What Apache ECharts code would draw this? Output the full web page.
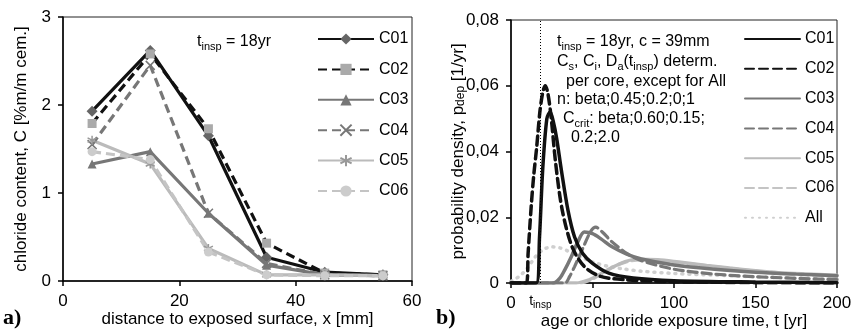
<!DOCTYPE html>
<html>
<head>
<meta charset="utf-8">
<script src="https://cdn.jsdelivr.net/npm/echarts@6/dist/echarts.min.js"></script>
<style>
  html, body { margin: 0; padding: 0; background: #fff; }
  #chart { width: 853px; height: 331px; }
</style>
</head>
<body>
<div id="chart"></div>
<script>
// ---- a) chloride profiles ----
const depth = [5, 15, 25, 35, 45, 55];
const C01 = [1.93, 2.62, 1.65, 0.27, 0.10, 0.07];
const C02 = [1.79, 2.58, 1.73, 0.43, 0.09, 0.07];
const C03 = [1.33, 1.47, 0.77, 0.18, 0.07, 0.06];
const C04 = [1.55, 2.45, 0.77, 0.20, 0.07, 0.06];
const C05 = [1.60, 1.33, 0.37, 0.07, 0.07, 0.06];
const C06 = [1.47, 1.38, 0.33, 0.07, 0.06, 0.06];

// ---- b) probability density of depassivation ----
const tC01 = [0, 15.5, 17.5, 19.5, 22, 24, 26, 28, 31, 35, 39, 44, 50, 60, 75, 100, 150, 200];
const pC01 = [0, 0, 0.014, 0.035, 0.05, 0.052, 0.049, 0.044, 0.034, 0.022, 0.014, 0.009, 0.006, 0.003, 0.0015, 0.0007, 0.0003, 0.0001];
const tC02 = [0, 9.5, 10.5, 12.5, 14, 15.7, 17.7, 19.5, 21, 22.5, 24.5, 27.5, 31.5, 37.5, 45, 55, 70, 100, 150, 200];
const pC02 = [0, 0, 0.009, 0.024, 0.033, 0.041, 0.052, 0.058, 0.06, 0.058, 0.051, 0.036, 0.022, 0.011, 0.005, 0.002, 0.001, 0.0004, 0.0001, 0];
const tC03 = [0, 26, 30, 33, 37, 41, 45, 50, 55, 62, 71, 80, 100, 125, 150, 175, 200];
const pC03 = [0, 0, 0.0015, 0.004, 0.008, 0.0125, 0.0155, 0.015, 0.0135, 0.011, 0.0088, 0.0073, 0.0055, 0.0042, 0.0033, 0.0027, 0.0022];
const tC04 = [0, 33, 36, 39, 44, 49, 52, 56, 62, 71, 80, 100, 125, 150, 200];
const pC04 = [0, 0, 0.002, 0.005, 0.0105, 0.0158, 0.017, 0.0155, 0.0125, 0.009, 0.0068, 0.0042, 0.0027, 0.0019, 0.001];
const tC05 = [0, 40, 48, 54, 62, 70, 77, 90, 103, 120, 134, 150, 164, 180, 200];
const pC05 = [0, 0, 0.001, 0.0025, 0.0047, 0.0065, 0.0073, 0.0071, 0.0064, 0.0054, 0.0046, 0.0038, 0.0032, 0.0028, 0.0024];
const tC06 = [0, 42, 50, 56, 64, 72, 80, 95, 110, 130, 150, 175, 200];
const pC06 = [0, 0, 0.0012, 0.003, 0.0052, 0.0066, 0.007, 0.0066, 0.0058, 0.0047, 0.0036, 0.0027, 0.002];
const tAll = [0, 5, 10, 15, 20, 25, 30, 35, 40, 45, 50, 60, 70, 80, 100, 125, 150, 175, 200];
const pAll = [0.0005, 0.002, 0.0045, 0.008, 0.0102, 0.011, 0.0107, 0.0097, 0.0085, 0.0074, 0.0064, 0.005, 0.0042, 0.0036, 0.0029, 0.0024, 0.0019, 0.0015, 0.0012];

const tInsp = 18;

const FONT = "'Liberation Sans', Arial, sans-serif";
const pair = (xs, ys) => xs.map((x, i) => [x, ys[i]]);
const subRich = {
  m: { fontSize: 16, fontFamily: FONT, color: '#000', lineHeight: 20 },
  s: { fontSize: 11, fontFamily: FONT, color: '#000', lineHeight: 11, verticalAlign: 'bottom' }
};
const nameRich = {
  s: { fontSize: 12, fontFamily: FONT, color: '#000', lineHeight: 12, verticalAlign: 'bottom' }
};

const crossPath = 'path://M0,0L10,10M10,0L0,10';
const starPath = 'path://M5,0L5,10M0,2.5L10,7.5M0,7.5L10,2.5';

function profile(name, data, color, dashed, symbol, symColor, stroked) {
  return {
    name: name,
    type: 'line',
    xAxisIndex: 0,
    yAxisIndex: 0,
    data: pair(depth, data),
    symbol: symbol,
    symbolSize: symbol === 'diamond' ? 11 : 9,
    lineStyle: { color: color, width: 3.2, type: dashed ? [9, 5] : 'solid' },
    itemStyle: stroked
      ? { color: 'rgba(0,0,0,0)', borderColor: symColor, borderWidth: 1.5 }
      : { color: symColor, borderWidth: 0 }
  };
}

function density(name, xs, ys, color, type, width) {
  return {
    name: 'b' + name,
    type: 'line',
    xAxisIndex: 1,
    yAxisIndex: 1,
    data: pair(xs, ys),
    smooth: 0.3,
    symbol: 'none',
    lineStyle: { color: color, width: width, type: type, cap: 'round' },
    itemStyle: { color: color }
  };
}

const series = [
  profile('C01', C01, '#111', false, 'diamond', '#666'),
  profile('C02', C02, '#111', true, 'rect', '#aaa'),
  profile('C03', C03, '#777', false, 'triangle', '#777'),
  profile('C04', C04, '#777', true, crossPath, '#777', true),
  profile('C05', C05, '#bbb', false, starPath, '#999', true),
  profile('C06', C06, '#c4c4c4', true, 'circle', '#ccc'),
  density('All', tAll, pAll, '#cfcfcf', [1, 6], 3.5),
  density('C06', tC06, pC06, '#c4c4c4', [9, 5], 3.2),
  density('C05', tC05, pC05, '#bbb', 'solid', 3.2),
  density('C04', tC04, pC04, '#777', [9, 5], 3.2),
  density('C03', tC03, pC03, '#777', 'solid', 3.5),
  density('C02', tC02, pC02, '#111', [9, 5], 3.5),
  density('C01', tC01, pC01, '#111', 'solid', 3.5)
];

// vertical t_insp marker
series[series.length - 1].markLine = {
  silent: true,
  symbol: 'none',
  lineStyle: { color: '#000', width: 1, type: [1, 2] },
  label: {
    show: true,
    position: 'start',
    distance: 10,
    formatter: '{m|t}{s|insp}',
    rich: {
      m: { fontSize: 14, fontFamily: FONT, color: '#000', lineHeight: 17 },
      s: { fontSize: 10, fontFamily: FONT, color: '#000', lineHeight: 10, verticalAlign: 'bottom' }
    }
  },
  data: [[{ coord: [tInsp, 0] }, { coord: [tInsp, 0.08] }]]
};

const tickStyle = {
  axisLine: { show: true, lineStyle: { color: '#000', width: 1.5 } },
  axisTick: { show: true, inside: false, length: 5, lineStyle: { color: '#000', width: 1.5 } },
  splitLine: { show: false },
  nameMoveOverlap: false,
  axisLabel: { color: '#000', fontSize: 17, fontFamily: FONT }
};
const nameStyle = { color: '#000', fontSize: 17, fontFamily: FONT };

const option = {
  animation: false,
  backgroundColor: '#fff',
  textStyle: { fontFamily: FONT },
  grid: [
    { left: 63, top: 17, width: 349, height: 264, show: true, borderColor: '#222', borderWidth: 1, containLabel: false, outerBoundsMode: 'none' },
    { left: 511, top: 20, width: 326, height: 263, show: true, borderColor: '#222', borderWidth: 1, containLabel: false, outerBoundsMode: 'none' }
  ],
  xAxis: [
    Object.assign({}, tickStyle, {
      gridIndex: 0, type: 'value', min: 0, max: 60, interval: 20,
      name: 'distance to exposed surface, x [mm]', nameLocation: 'middle', nameGap: 30,
      nameTextStyle: nameStyle,
      axisLabel: Object.assign({}, tickStyle.axisLabel, { margin: 12 })
    }),
    Object.assign({}, tickStyle, {
      gridIndex: 1, type: 'value', min: 0, max: 200, interval: 50,
      name: 'age or chloride exposure time, t [yr]', nameLocation: 'middle', nameGap: 30,
      nameTextStyle: nameStyle,
      axisLabel: Object.assign({}, tickStyle.axisLabel, { margin: 12 })
    })
  ],
  yAxis: [
    Object.assign({}, tickStyle, {
      gridIndex: 0, type: 'value', min: 0, max: 3, interval: 1,
      name: 'chloride content, C [%m/m cem.]', nameLocation: 'middle', nameGap: 33,
      nameTextStyle: nameStyle,
      axisLabel: Object.assign({}, tickStyle.axisLabel, { margin: 12 })
    }),
    Object.assign({}, tickStyle, {
      gridIndex: 1, type: 'value', min: 0, max: 0.08, interval: 0.02,
      name: 'probability density, p{s|dep} [1/yr]', nameLocation: 'middle', nameGap: 44,
      nameTextStyle: Object.assign({}, nameStyle, { rich: nameRich }),
      axisLabel: Object.assign({}, tickStyle.axisLabel, {
        margin: 12,
        formatter: v => (v === 0 ? '0' : v.toFixed(2).replace('.', ','))
      })
    })
  ],
  legend: [
    {
      orient: 'vertical', left: 312, top: 26,
      itemWidth: 56, itemHeight: 14, itemGap: 14.4,
      data: ['C01', 'C02', 'C03', 'C04', 'C05', 'C06'],
      textStyle: { color: '#000', fontSize: 16, fontFamily: FONT },
      selectedMode: false
    },
    {
      orient: 'vertical', left: 739, top: 26,
      itemWidth: 55, itemHeight: 14, itemGap: 13.8,
      data: ['bC01', 'bC02', 'bC03', 'bC04', 'bC05', 'bC06', 'bAll'],
      formatter: n => n.replace(/^b/, ''),
      itemStyle: { color: 'rgba(0,0,0,0)', borderWidth: 0 },
      textStyle: { color: '#000', fontSize: 16, fontFamily: FONT },
      selectedMode: false
    }
  ],
  graphic: [
    { type: 'text', x: 197, y: 42, style: { text: '{m|t}{s|insp}{m| = 18yr}', rich: subRich, verticalAlign: 'middle' } },
    { type: 'text', x: 557, y: 42, style: { text: '{m|t}{s|insp}{m| = 18yr, c = 39mm}', rich: subRich, verticalAlign: 'middle' } },
    { type: 'text', x: 557, y: 62, style: { text: '{m|C}{s|s}{m|, C}{s|i}{m|, D}{s|a}{m|(t}{s|insp}{m|) determ.}', rich: subRich, verticalAlign: 'middle' } },
    { type: 'text', x: 566, y: 82, style: { text: '{m|per core, except for All}', rich: subRich, verticalAlign: 'middle' } },
    { type: 'text', x: 557, y: 100, style: { text: '{m|n: beta;0.45;0.2;0;1}', rich: subRich, verticalAlign: 'middle' } },
    { type: 'text', x: 563, y: 119, style: { text: '{m|C}{s|crit}{m|: beta;0.60;0.15;}', rich: subRich, verticalAlign: 'middle' } },
    { type: 'text', x: 571, y: 138, style: { text: '{m|0.2;2.0}', rich: subRich, verticalAlign: 'middle' } },
    { type: 'text', x: 3, y: 318, style: { text: 'a)', font: "bold 22px 'Liberation Serif', 'DejaVu Serif', serif", fill: '#000', verticalAlign: 'middle' } },
    { type: 'text', x: 436, y: 318, style: { text: 'b)', font: "bold 22px 'Liberation Serif', 'DejaVu Serif', serif", fill: '#000', verticalAlign: 'middle' } }
  ],
  series: series
};

const myChart = echarts.init(document.getElementById('chart'), null, { renderer: 'canvas' });
myChart.setOption(option);
</script>
</body>
</html>
